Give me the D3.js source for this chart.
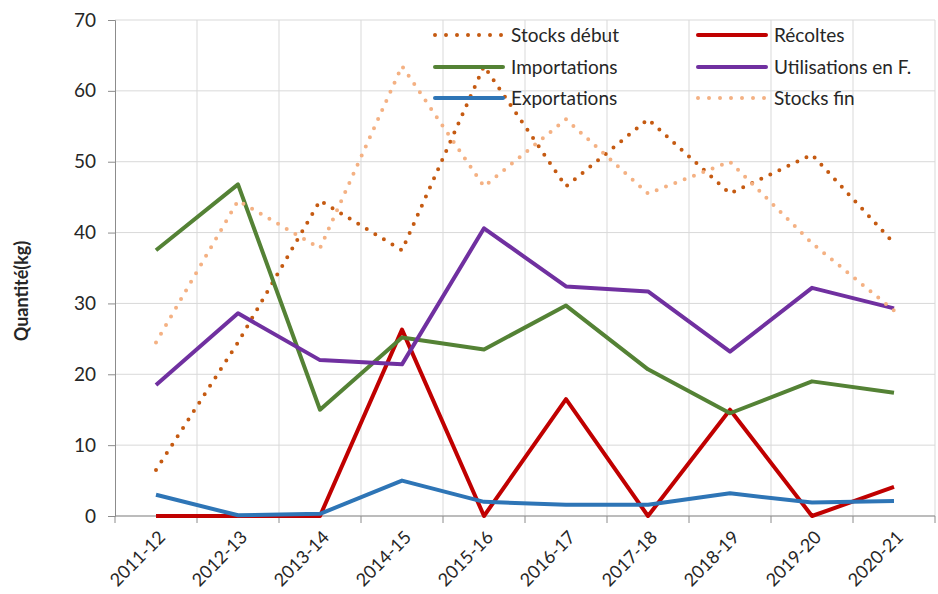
<!DOCTYPE html>
<html lang="fr">
<head>
<meta charset="UTF-8">
<title>Quantité (kg)</title>
<script src="https://cdn.jsdelivr.net/npm/d3@7"></script>
<style>
  body { margin: 0; background: #fff; }
  text { font-family: Lato, "Open Sans", sans-serif; fill: #262626; }
</style>
</head>
<body>
<div id="chart"></div>
<script>
// data
const years = ["2011-12", "2012-13", "2013-14", "2014-15", "2015-16", "2016-17", "2017-18", "2018-19", "2019-20", "2020-21"];
const stocksDebut = [6.5, 24.5, 44.5, 37.5, 63.5, 46.5, 56, 45.5, 51, 38.5];
const recoltes = [0, 0, 0, 26.3, 0, 16.5, 0, 15, 0, 4.1];
const importations = [37.5, 46.8, 15, 25.2, 23.5, 29.7, 20.7, 14.5, 19, 17.4];
const utilisations = [18.5, 28.6, 22, 21.4, 40.6, 32.4, 31.7, 23.2, 32.2, 29.3];
const exportations = [3, 0.1, 0.3, 5, 2, 1.6, 1.6, 3.2, 1.9, 2.1];
const stocksFin = [24.5, 44.5, 37.8, 63.5, 46.5, 56, 45.5, 50, 38.5, 29];
const yTicks = [0, 10, 20, 30, 40, 50, 60, 70];

const series = [
  { name: "Stocks début", values: stocksDebut, color: "#c55a11", dotted: true },
  { name: "Récoltes", values: recoltes, color: "#c00000" },
  { name: "Importations", values: importations, color: "#548235" },
  { name: "Utilisations en F.", values: utilisations, color: "#7030a0" },
  { name: "Exportations", values: exportations, color: "#2e75b6" },
  { name: "Stocks fin", values: stocksFin, color: "#f4b183", dotted: true }
];

const W = 938, H = 594;
const mLeft = 115, mRight = 935, mTop = 20, mBottom = 516;

const svg = d3.select("#chart").append("svg")
  .attr("width", W).attr("height", H);

const x = d3.scaleBand().domain(years).range([mLeft, mRight]);
const y = d3.scaleLinear().domain([0, 70]).range([mBottom, mTop]);
const cx = d => x(d) + x.bandwidth() / 2;

// gridlines
svg.append("g").selectAll("line")
  .data(yTicks).enter().append("line")
  .attr("x1", mLeft).attr("x2", mRight)
  .attr("y1", d => y(d)).attr("y2", d => y(d))
  .attr("stroke", "#d9d9d9").attr("stroke-width", 1);

const bounds = years.map(d => x(d)).concat([mRight]);
svg.append("g").selectAll("line")
  .data(bounds.slice(1)).enter().append("line")
  .attr("x1", d => d).attr("x2", d => d)
  .attr("y1", mTop).attr("y2", mBottom)
  .attr("stroke", "#d9d9d9").attr("stroke-width", 1);

// y axis
const yAxis = svg.append("g")
  .attr("transform", "translate(" + mLeft + ",0)")
  .call(d3.axisLeft(y).tickValues(yTicks).tickSize(7).tickPadding(12));
yAxis.select(".domain").attr("stroke", "#8c8c8c");
yAxis.selectAll(".tick line").attr("stroke", "#8c8c8c");
yAxis.selectAll("text").style("font-size", "19px").attr("fill", "#262626")
  .style("font-family", "Lato, sans-serif");

// x axis (ticks at category boundaries)
svg.append("line")
  .attr("x1", mLeft).attr("x2", mRight)
  .attr("y1", mBottom).attr("y2", mBottom)
  .attr("stroke", "#8c8c8c");
svg.append("g").selectAll("line")
  .data(bounds).enter().append("line")
  .attr("x1", d => d).attr("x2", d => d)
  .attr("y1", mBottom).attr("y2", mBottom + 7)
  .attr("stroke", "#8c8c8c");
svg.append("g").selectAll("text")
  .data(years).enter().append("text")
  .attr("transform", d => "translate(" + (cx(d) + 6) + "," + (mBottom + 18) + ") rotate(-45)")
  .attr("text-anchor", "end")
  .attr("dy", "0.35em")
  .style("font-size", "18px")
  .text(d => d);

// y label
svg.append("text")
  .attr("transform", "translate(28,291) rotate(-90)")
  .attr("text-anchor", "middle")
  .style("font-size", "18px")
  .style("font-weight", "bold")
  .attr("fill", "#000")
  .text("Quantité(kg)");

// lines
const line = d3.line().x((d, i) => cx(years[i])).y(d => y(d));
series.forEach(s => {
  const p = svg.append("path")
    .datum(s.values)
    .attr("d", line)
    .attr("fill", "none")
    .attr("stroke", s.color)
    .attr("stroke-width", 4)
    .attr("stroke-linejoin", "round");
  if (s.dotted) {
    p.attr("stroke-linecap", "round").attr("stroke-dasharray", "0 10");
  }
});

// legend
const legendPos = [
  [435, 35], [698, 35],
  [435, 67], [698, 67],
  [435, 98], [698, 98]
];
series.forEach((s, i) => {
  const [lx, ly] = legendPos[i];
  const g = svg.append("g");
  const l = g.append("line")
    .attr("x1", lx).attr("x2", lx + 68)
    .attr("y1", ly).attr("y2", ly)
    .attr("stroke", s.color).attr("stroke-width", 4).attr("stroke-linecap", "round");
  if (s.dotted) l.attr("stroke-dasharray", "0 11");
  g.append("text")
    .attr("x", lx + 76).attr("y", ly)
    .attr("dy", "0.35em")
    .style("font-size", "19px")
    .text(s.name);
});
</script>
</body>
</html>
